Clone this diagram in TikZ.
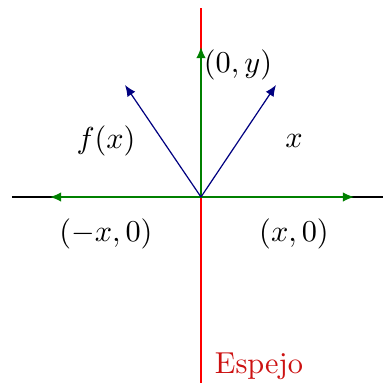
\documentclass[tikz,border=0pt]{standalone}
\usepackage{xcolor}
\usepackage{tikz}
\usetikzlibrary{arrows.meta}
\definecolor{mirror}{HTML}{FF0000}
\definecolor{mirrortext}{HTML}{CC1111}
\definecolor{axisgreen}{HTML}{008000}
\definecolor{vecblue}{HTML}{000080}

\begin{document}
\begin{tikzpicture}[x=0.58cm,y=0.58cm,axis/.style={draw=black,thin},comp/.style={-{Latex[length=1.3mm,width=1.1mm]},draw=axisgreen,thin},vec/.style={-{Latex[length=1.3mm,width=1.1mm]},draw=vecblue,thin},lbl/.style={font=\normalsize,inner sep=1pt}]
\useasboundingbox (-4.02,-3.76) rectangle (3.64,3.94);
\coordinate (o) at (0,0);
\coordinate (west) at (-3.78,0);
\coordinate (east) at (3.64,0);
\coordinate (top) at (0,3.78);
\coordinate (bottom) at (0,-3.72);
\coordinate (px) at (3.06,0);
\coordinate (mx) at (-3.02,0);
\coordinate (py) at (0,3.0);
\coordinate (v) at (1.5,2.24);
\coordinate (fv) at (-1.52,2.24);
\draw[axis] (west) -- (east);
\draw[draw=mirror,thin] (top) -- (bottom);
\draw[comp] (o) -- (px);
\draw[comp] (o) -- (mx);
\draw[comp] (o) -- (py);
\draw[vec] (o) -- (v);
\draw[vec] (o) -- (fv);
\node[lbl] (ylabel) at (0.74,2.64) {$(0,y)$};
\node[lbl] (fxlabel) at (-1.9,1.12) {$f(x)$};
\node[lbl] (xlabel) at (1.86,1.12) {$x$};
\node[lbl] (mxlabel) at (-1.9,-0.74) {$(-x,0)$};
\node[lbl] (pxlabel) at (1.86,-0.74) {$(x,0)$};
\node[lbl,text=mirrortext] (espejo) at (1.16,-3.38) {Espejo};
\end{tikzpicture}
\end{document}
